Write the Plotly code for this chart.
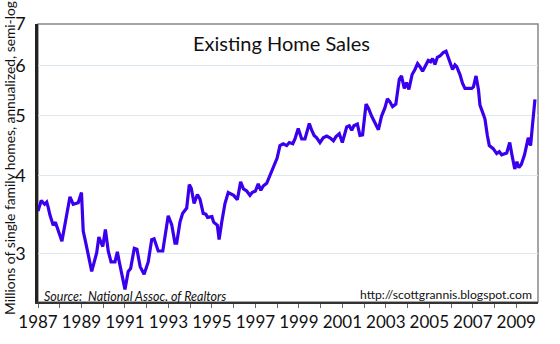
import plotly.graph_objects as go

years = [1987.0, 1987.15, 1987.3, 1987.4, 1987.47, 1987.55, 1987.7, 1987.8, 1988.1, 1988.47,
         1988.62, 1988.85, 1989.0, 1989.08, 1989.2, 1989.47, 1989.7, 1989.8, 1989.98, 1990.1,
         1990.23, 1990.36, 1990.54, 1990.65, 1990.74, 1991.0, 1991.15, 1991.26, 1991.43, 1991.55,
         1991.7, 1991.88, 1992.07, 1992.23, 1992.34, 1992.53, 1992.74, 1992.87, 1992.99, 1993.15,
         1993.3, 1993.38, 1993.53, 1993.65, 1993.84, 1993.96, 1994.05, 1994.18, 1994.33, 1994.45,
         1994.6, 1994.72, 1994.8, 1995.0, 1995.08, 1995.25, 1995.33, 1995.45, 1995.6, 1995.75,
         1996.0, 1996.17, 1996.32, 1996.45, 1996.6, 1996.75, 1996.85, 1997.0, 1997.13, 1997.25,
         1997.36, 1997.52, 1997.67, 1997.82, 1998.0, 1998.13, 1998.28, 1998.44, 1998.56, 1998.72,
         1998.82, 1998.97, 1999.13, 1999.28, 1999.36, 1999.48, 1999.59, 1999.7, 1999.82, 1999.97,
         2000.12, 2000.28, 2000.43, 2000.59, 2000.71, 2000.86, 2001.0, 2001.2, 2001.32, 2001.43,
         2001.53, 2001.69, 2001.81, 2001.93, 2002.09, 2002.2, 2002.35, 2002.5, 2002.66, 2002.8,
         2002.96, 2003.07, 2003.19, 2003.31, 2003.46, 2003.62, 2003.72, 2003.85, 2003.95, 2004.06,
         2004.21, 2004.34, 2004.46, 2004.57, 2004.69, 2004.8, 2004.95, 2005.06, 2005.15, 2005.26,
         2005.37, 2005.49, 2005.64, 2005.77, 2005.87, 2005.98, 2006.07, 2006.18, 2006.26, 2006.41,
         2006.53, 2006.64, 2006.79, 2006.95, 2007.03, 2007.15, 2007.26, 2007.33, 2007.49, 2007.56,
         2007.67, 2007.76, 2007.94, 2008.1, 2008.22, 2008.33, 2008.56, 2008.7, 2008.8, 2008.93,
         2009.03, 2009.12, 2009.23, 2009.38, 2009.55, 2009.66, 2009.75, 2009.86]

sales = [3.51, 3.65, 3.60, 3.63, 3.56, 3.46, 3.33, 3.37, 3.14, 3.70,
         3.60, 3.62, 3.76, 3.26, 3.12, 2.81, 3.01, 3.19, 3.08, 3.28,
         3.03, 2.91, 2.91, 3.02, 2.91, 2.63, 2.81, 2.84, 3.06, 3.05,
         2.86, 2.78, 2.91, 3.16, 3.17, 3.03, 3.03, 3.24, 3.45, 3.34,
         3.12, 3.12, 3.37, 3.48, 3.55, 3.87, 3.82, 3.61, 3.73, 3.67,
         3.48, 3.47, 3.43, 3.44, 3.37, 3.33, 3.16, 3.37, 3.61, 3.76,
         3.72, 3.66, 3.91, 3.81, 3.78, 3.72, 3.76, 3.78, 3.88, 3.79,
         3.85, 3.89, 4.00, 4.10, 4.27, 4.47, 4.50, 4.47, 4.52, 4.50,
         4.58, 4.76, 4.58, 4.58, 4.70, 4.85, 4.73, 4.64, 4.60, 4.52,
         4.60, 4.63, 4.60, 4.55, 4.62, 4.67, 4.52, 4.79, 4.81, 4.73,
         4.81, 4.84, 4.64, 4.65, 5.21, 5.13, 4.98, 4.87, 4.74, 4.98,
         5.14, 5.31, 5.25, 5.16, 5.21, 5.71, 5.78, 5.52, 5.64, 5.50,
         5.81, 5.92, 6.05, 5.98, 5.88, 5.98, 6.12, 6.09, 6.16, 6.03,
         6.19, 6.22, 6.30, 6.33, 6.19, 6.09, 5.92, 6.02, 5.98, 5.81,
         5.62, 5.52, 5.52, 5.52, 5.55, 5.78, 5.50, 5.19, 5.01, 4.93,
         4.64, 4.47, 4.42, 4.34, 4.37, 4.32, 4.35, 4.52, 4.32, 4.10,
         4.21, 4.12, 4.17, 4.32, 4.60, 4.47, 4.84, 5.30]

x_tickvals = list(range(1987, 2010, 2))
x_ticktext = [str(v) for v in x_tickvals]
y_tickvals = [3, 4, 5, 6, 7]
y_ticktext = ["3", "4", "5", "6", "7"]

FONT = "Lato"

fig = go.Figure()
fig.add_trace(go.Scatter(x=years, y=sales, mode="lines",
                         line=dict(color="#3a00ee", width=3.2),
                         hoverinfo="skip", showlegend=False))

fig.update_layout(
    width=560, height=344,
    margin=dict(l=38, r=22, t=16, b=29),
    paper_bgcolor="white", plot_bgcolor="white",
    font=dict(family=FONT, color="#111"),
    xaxis=dict(range=[1987, 2010], tickmode="array", tickvals=x_tickvals, ticktext=x_ticktext,
               ticks="outside", ticklen=4, tickcolor="#666", tickfont=dict(size=17, color="#111"),
               showgrid=False, zeroline=False, showline=True, linecolor="#333", linewidth=1.5,
               minor=dict(tickmode="array", tickvals=list(range(1988, 2010, 2)),
                          ticks="outside", ticklen=4, tickcolor="#666")),
    yaxis=dict(type="log", range=[0.3997, 0.8451], tickmode="array",
               tickvals=y_tickvals, ticktext=y_ticktext,
               tickfont=dict(size=18, color="#111"), ticks="", ticklabelstandoff=6,
               showgrid=True, gridcolor="#dde7ef", gridwidth=1, zeroline=False,
               showline=True, linecolor="#222", linewidth=2.5),
    shapes=[dict(type="rect", xref="paper", yref="paper", x0=0, y0=0, x1=1, y1=1,
                 line=dict(color="#888", width=1.5), layer="below")],
    annotations=[
        dict(text="Existing Home Sales", xref="paper", yref="paper", x=0.486, y=0.93,
             xanchor="center", yanchor="middle", showarrow=False,
             font=dict(size=20, color="#111", family=FONT)),
        dict(text="<i>Source:  National Assoc. of Realtors</i>", xref="paper", yref="paper",
             x=0.008, y=0.02, xanchor="left", yanchor="middle", showarrow=False,
             font=dict(size=12.5, color="#111", family=FONT)),
        dict(text="http://scottgrannis.blogspot.com", xref="paper", yref="paper",
             x=0.992, y=0.027, xanchor="right", yanchor="middle", showarrow=False,
             font=dict(size=12.2, color="#111", family=FONT)),
        dict(text="Millions of single family homes, annualized, semi-log", xref="paper",
             yref="paper", x=-0.056, y=0.518, xanchor="center", yanchor="middle",
             textangle=-90, showarrow=False, font=dict(size=13.8, color="#111", family=FONT)),
    ],
)

fig.write_html("out.html")
